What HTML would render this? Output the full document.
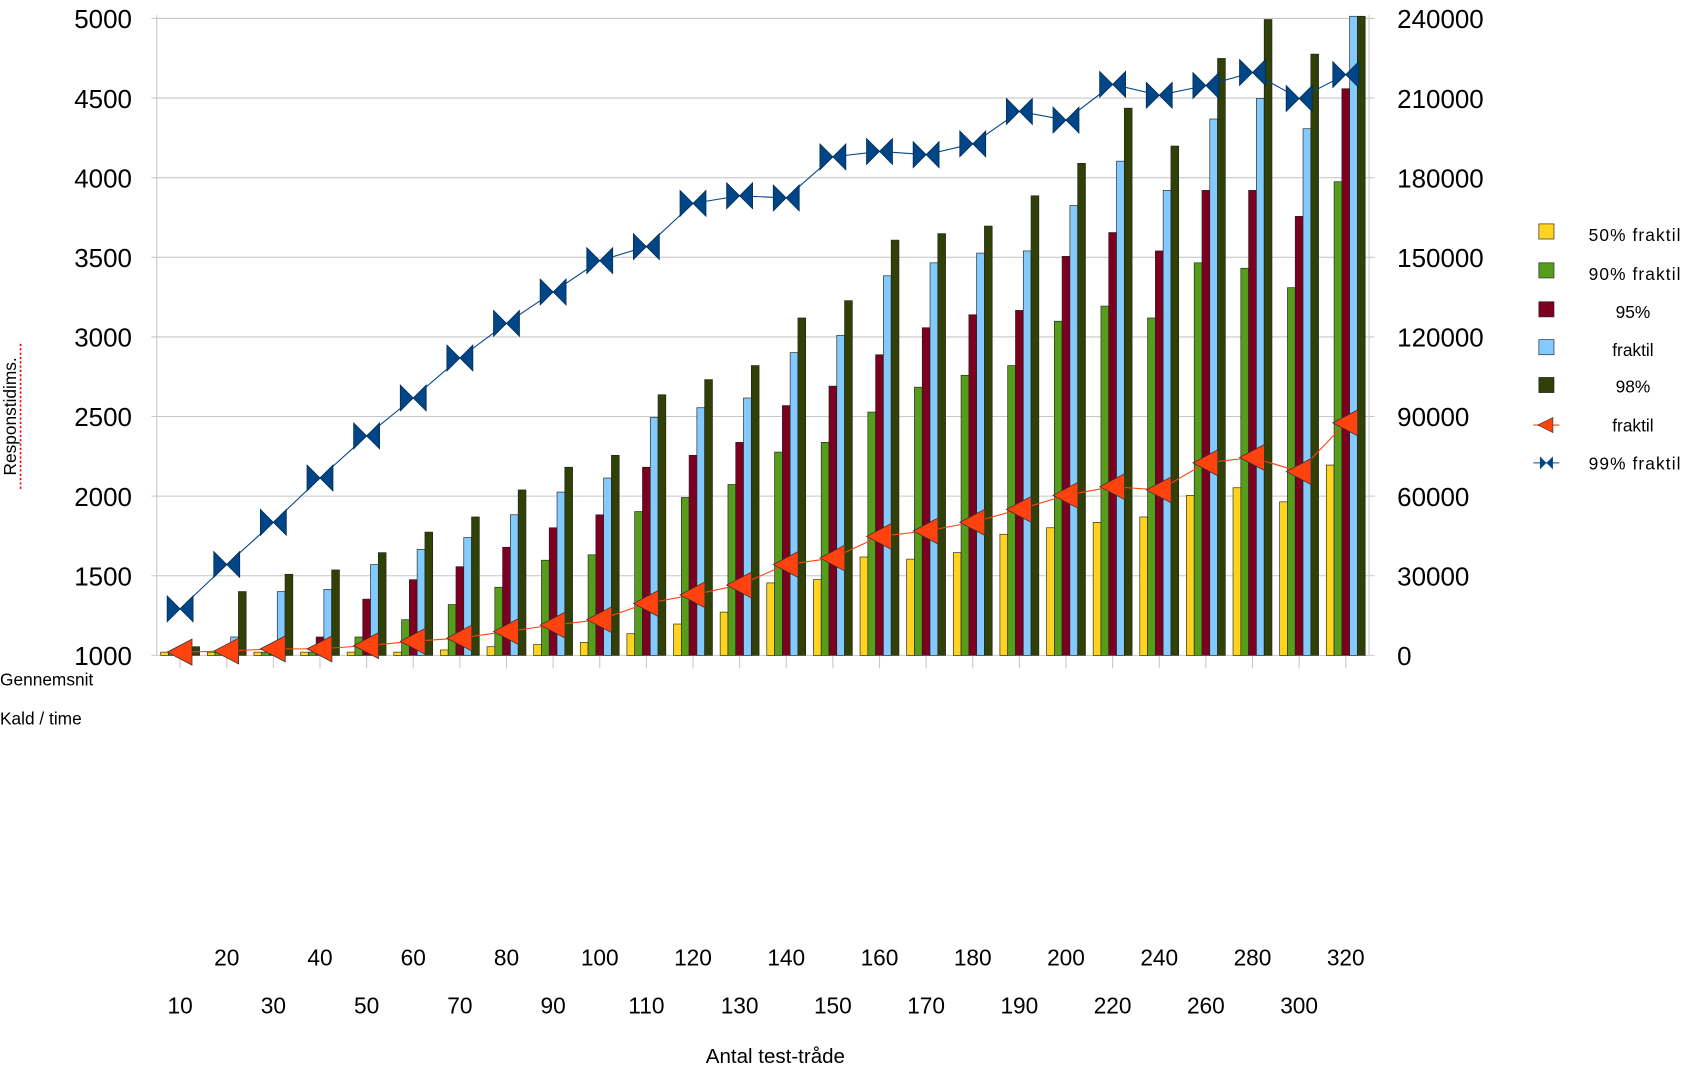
<!DOCTYPE html>
<html><head><meta charset="utf-8"><style>
html,body{margin:0;padding:0;background:#fff;}
svg{display:block;}
text{font-family:"Liberation Sans",sans-serif;fill:#000;}
</style></head><body>
<svg width="1687" height="1075" viewBox="0 0 1560 994" xmlns="http://www.w3.org/2000/svg">
<g id="grid" stroke="#c8c8c8" stroke-width="1"></g>
<g id="bars" stroke="#222" stroke-width="0.6"></g>
<g id="lines"></g>
<g id="labels"></g>
<text x="0" y="634" font-size="16">Gennemsnit</text>
<text x="0" y="670" font-size="16">Kald / time</text>
<text x="717" y="983" font-size="19" text-anchor="middle">Antal test-tråde</text>
<text transform="translate(15,385) rotate(-90)" font-size="16" text-anchor="middle">Responstidims.</text>
<line x1="19" y1="318" x2="19" y2="452" stroke="#e00" stroke-width="1.5" stroke-dasharray="2,2"/>
<g font-size="16">
<rect x="1423" y="207" width="14" height="14" fill="#ffd320" stroke="#222" stroke-width="0.6"/>
<rect x="1423" y="243" width="14" height="14" fill="#579d1c" stroke="#222" stroke-width="0.6"/>
<rect x="1423" y="279" width="14" height="14" fill="#7e0021" stroke="#222" stroke-width="0.6"/>
<rect x="1423" y="314" width="14" height="14" fill="#83caff" stroke="#222" stroke-width="0.6"/>
<rect x="1423" y="349" width="14" height="14" fill="#314004" stroke="#222" stroke-width="0.6"/>
<line x1="1418" y1="393" x2="1442" y2="393" stroke="#ff420e"/>
<polygon points="1422,393 1436,386 1436,400" fill="#ff420e" stroke="#333" stroke-width="0.6"/>
<line x1="1418" y1="428" x2="1442" y2="428" stroke="#004586"/>
<polygon points="1424,422 1430,428 1424,434" fill="#004586"/><polygon points="1436,422 1430,428 1436,434" fill="#004586"/>
<text x="1469" y="223" textLength="85">50% fraktil</text>
<text x="1469" y="259" textLength="85">90% fraktil</text>
<text x="1510" y="294" text-anchor="middle">95%</text>
<text x="1510" y="329" text-anchor="middle">fraktil</text>
<text x="1510" y="363" text-anchor="middle">98%</text>
<text x="1510" y="399" text-anchor="middle">fraktil</text>
<text x="1469" y="434" textLength="85">99% fraktil</text>
</g>
</svg>
<script>
(function(){
const NS="http://www.w3.org/2000/svg";
function el(p,t,a){const e=document.createElementNS(NS,t);for(const k in a)e.setAttribute(k,a[k]);p.appendChild(e);return e;}
const grid=document.getElementById('grid'),bars=document.getElementById('bars'),lines=document.getElementById('lines'),labels=document.getElementById('labels');
const T0=17,B0=606,L=145,R=1266;
for(let i=0;i<=8;i++){const y=T0+(B0-T0)*i/8;el(grid,'line',{x1:140,y1:y,x2:R+5,y2:y});
 const t=el(labels,'text',{x:122,y:y+9,'font-size':24,'text-anchor':'end'});t.textContent=5000-500*i;
 const t2=el(labels,'text',{x:1292,y:y+9,'font-size':24});t2.textContent=240000-30000*i;}
el(grid,'line',{x1:L,y1:14,x2:L,y2:B0});el(grid,'line',{x1:R,y1:14,x2:R,y2:B0});
const cats=[10,20,30,40,50,60,70,80,90,100,110,120,130,140,150,160,170,180,190,200,220,240,260,280,300,320];
const B=[[603,603,603,602,598],[603,603,603,589,547],[603,603,603,547,531],[603,603,589,545,527],[603,589,554,522,511],[603,573,536,508,492],[601,559,524,497,478],[598,543,506,476,453],[596,518,488,455,432],[594,513,476,442,421],[586,473,432,386,365],[577,460,421,377,351],[566,448,409,368,338],[539,418,375,326,294],[536,409,357,310,278],[515,381,328,255,222],[517,358,303,243,216],[511,347,291,234,209],[494,338,287,232,181],[488,297,237,190,151],[483,283,215,149,100],[478,294,232,176,135],[458,243,176,110,54],[451,248,176,91,18],[464,266,200,119,50],[430,168,82,15,15]];
const O=[603,602,600,600,597,593,590,584,578,573,558,550,541,522,516,496,491,483,471,458,450,453,428,423,436,391];
const U=[563,522,483,442,403,368,331,299,270,241,228,188,181,183,145,140,143,133,103,111,78,88,79,67,91,69];
const cols=['#ffd320','#579d1c','#7e0021','#83caff','#314004'];
const cw=(R-L)/26;
const cx=i=>L+cw*(i+0.5);
cats.forEach((c,i)=>{const x=cx(i);
 el(grid,'line',{x1:x,y1:B0,x2:x,y2:618});
 for(let j=0;j<5;j++){const y=B[i][j];el(bars,'rect',{x:x-18+j*7.2,y:y,width:7.2,height:B0-y,fill:cols[j]});}
 const t=el(labels,'text',{x:x,y:(i%2? 893:937),'font-size':21,'text-anchor':'middle'});t.textContent=c;
});
el(lines,'polyline',{points:O.map((y,i)=>cx(i)+','+y).join(' '),fill:'none',stroke:'#ff420e','stroke-width':1});
el(lines,'polyline',{points:U.map((y,i)=>cx(i)+','+y).join(' '),fill:'none',stroke:'#004586','stroke-width':1});
O.forEach((y,i)=>{const x=cx(i);el(lines,'polygon',{points:`${x-12},${y} ${x+11},${y-12} ${x+11},${y+12}`,fill:'#ff420e',stroke:'#333','stroke-width':0.7});});
U.forEach((y,i)=>{const x=cx(i);
 el(lines,'polygon',{points:`${x-12},${y-12} ${x},${y} ${x-12},${y+12}`,fill:'#004586',stroke:'#002a55','stroke-width':0.7});
 el(lines,'polygon',{points:`${x+12},${y-12} ${x},${y} ${x+12},${y+12}`,fill:'#004586',stroke:'#002a55','stroke-width':0.7});});
})();
</script>
</body></html>
